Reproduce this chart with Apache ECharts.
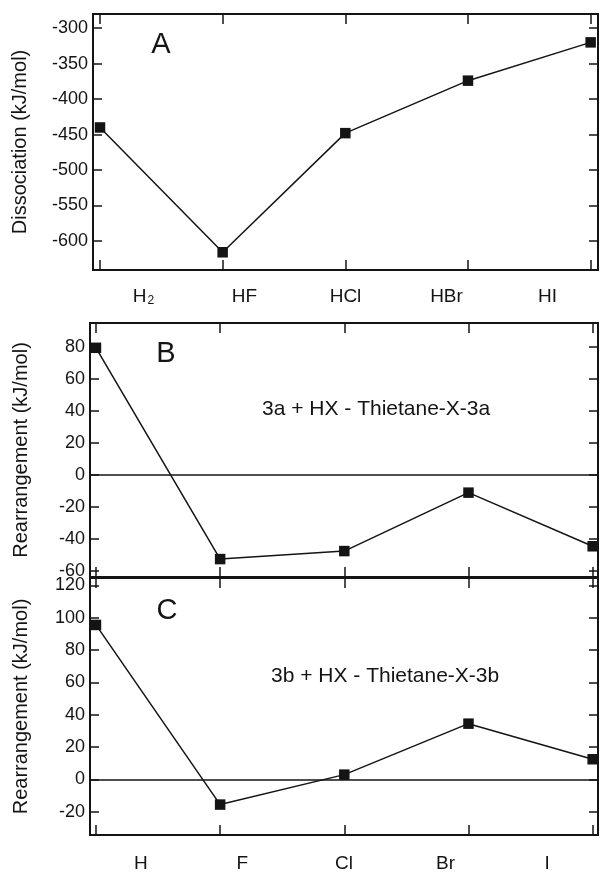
<!DOCTYPE html>
<html>
<head>
<meta charset="utf-8">
<script src="https://cdn.jsdelivr.net/npm/echarts@6/dist/echarts.min.js"></script>
<style>
html,body{margin:0;padding:0;background:#fff;}
#chart{width:601px;height:874px;}
</style>
</head>
<body>
<div id="chart"></div>
<script>
// ---- data ----
var categoriesA = ['H2', 'HF', 'HCl', 'HBr', 'HI'];
var categoriesC = ['H', 'F', 'Cl', 'Br', 'I'];
var dissociation = [-440, -616, -448, -374, -320];
var rearrangement3a = [79.5, -52.5, -47.5, -11, -44.5];
var rearrangement3b = [95.5, -15.5, 3, 34.5, 12.5];
var ticksA = [-600, -550, -500, -450, -400, -350, -300];
var ticksB = [-60, -40, -20, 0, 20, 40, 60, 80];
var ticksC = [-20, 0, 20, 40, 60, 80, 100, 120];
var catTicks = [0, 1, 2, 3, 4];
var titleA = 'Dissociation (kJ/mol)';
var titleBC = 'Rearrangement (kJ/mol)';
var noteB = '3a + HX - Thietane-X-3a';
var noteC = '3b + HX - Thietane-X-3b';

var FONT = "'Liberation Sans', Arial, Helvetica, sans-serif";
var INK = '#141414';

function pts(vals) { return vals.map(function (v, i) { return [i, v]; }); }

function tickX(grid, min, max, pos) {
  return {
    type: 'value', gridIndex: grid, position: pos, min: min, max: max,
    axisLine: { show: false, onZero: false },
    axisTick: { show: true, inside: true, length: 10, customValues: catTicks, lineStyle: { color: INK, width: 1.5 } },
    axisLabel: { show: false }, splitLine: { show: false }
  };
}
function labelX(grid, cats, margin) {
  return {
    type: 'category', gridIndex: grid, position: 'bottom', data: cats, boundaryGap: true,
    axisLine: { show: false, onZero: false }, axisTick: { show: false }, splitLine: { show: false },
    axisLabel: {
      interval: 0, hideOverlap: false,
      margin: margin, fontSize: 19, fontFamily: FONT, color: INK, lineHeight: 20,
      formatter: function (v) { return v === 'H2' ? '{n|H}{s|2}' : v; },
      rich: {
        n: { fontSize: 19, fontFamily: FONT, color: INK, lineHeight: 20, verticalAlign: 'top' },
        s: { fontSize: 12, fontFamily: FONT, color: INK, lineHeight: 12, padding: [16, 0, 0, 1], verticalAlign: 'bottom' }
      }
    }
  };
}
function leftY(grid, min, max, ticks, name, gap) {
  return {
    type: 'value', gridIndex: grid, position: 'left', min: min, max: max,
    name: name, nameLocation: 'middle', nameGap: gap, nameRotate: 90,
    nameTextStyle: { fontSize: 20, fontFamily: FONT, color: INK },
    axisLine: { show: false, onZero: false },
    axisTick: { show: true, inside: true, length: 9, customValues: ticks, lineStyle: { color: INK, width: 1.5 } },
    axisLabel: { show: true, customValues: ticks, fontSize: 18, fontFamily: FONT, color: INK, margin: 5 },
    splitLine: { show: false }
  };
}
function rightY(grid, min, max, ticks) {
  return {
    type: 'value', gridIndex: grid, position: 'right', min: min, max: max,
    axisLine: { show: false, onZero: false },
    axisTick: { show: true, inside: true, length: 9, customValues: ticks, lineStyle: { color: INK, width: 1.5 } },
    axisLabel: { show: false }, splitLine: { show: false }
  };
}
function lineSeries(xi, yi, vals, zero) {
  var s = {
    type: 'line', xAxisIndex: xi, yAxisIndex: yi, data: pts(vals),
    symbol: 'rect', symbolSize: 10.5, showSymbol: true,
    lineStyle: { color: INK, width: 1.5 },
    itemStyle: { color: INK }, animation: false, silent: true
  };
  if (zero) {
    s.markLine = {
      silent: true, symbol: 'none', label: { show: false }, animation: false,
      lineStyle: { color: INK, width: 1.5, type: 'solid' },
      data: [{ yAxis: 0 }]
    };
  }
  return s;
}

var gridStyle = { show: true, borderColor: INK, borderWidth: 2, backgroundColor: 'transparent', containLabel: false };

var option = {
  backgroundColor: '#fff',
  animation: false,
  grid: [
    Object.assign({ left: 93, top: 14, width: 505, height: 256 }, gridStyle),
    Object.assign({ left: 90, top: 323, width: 508, height: 254 }, gridStyle),
    Object.assign({ left: 90, top: 578, width: 508, height: 258 }, gridStyle)
  ],
  xAxis: [
    tickX(0, -0.057, 4.06, 'bottom'),
    tickX(0, -0.057, 4.06, 'top'),
    labelX(0, categoriesA, 17),
    tickX(1, -0.048, 4.043, 'bottom'),
    tickX(1, -0.048, 4.043, 'top'),
    tickX(2, -0.048, 4.043, 'bottom'),
    tickX(2, -0.048, 4.043, 'top'),
    labelX(2, categoriesC, 19)
  ],
  yAxis: [
    leftY(0, -641, -280, ticksA, titleA, 63),
    rightY(0, -641, -280, ticksA),
    leftY(1, -63.7, 95, ticksB, titleBC, 59),
    rightY(1, -63.7, 95, ticksB),
    leftY(2, -34.3, 124.5, ticksC, titleBC, 59),
    rightY(2, -34.3, 124.5, ticksC)
  ],
  series: [
    lineSeries(0, 0, dissociation, false),
    lineSeries(3, 2, rearrangement3a, true),
    lineSeries(5, 4, rearrangement3b, true)
  ],
  graphic: [
    { type: 'text', x: 161, y: 45, silent: true, style: { text: 'A', fontSize: 29, fontFamily: FONT, fill: INK, align: 'center', verticalAlign: 'middle' } },
    { type: 'text', x: 166, y: 354, silent: true, style: { text: 'B', fontSize: 29, fontFamily: FONT, fill: INK, align: 'center', verticalAlign: 'middle' } },
    { type: 'text', x: 167, y: 611, silent: true, style: { text: 'C', fontSize: 29, fontFamily: FONT, fill: INK, align: 'center', verticalAlign: 'middle' } },
    { type: 'text', x: 262, y: 409, silent: true, style: { text: noteB, fontSize: 21, fontFamily: FONT, fill: INK, align: 'left', verticalAlign: 'middle' } },
    { type: 'text', x: 271, y: 676, silent: true, style: { text: noteC, fontSize: 21, fontFamily: FONT, fill: INK, align: 'left', verticalAlign: 'middle' } }
  ]
};

var chart = echarts.init(document.getElementById('chart'), null, { renderer: 'canvas' });
chart.setOption(option);
</script>
</body>
</html>
